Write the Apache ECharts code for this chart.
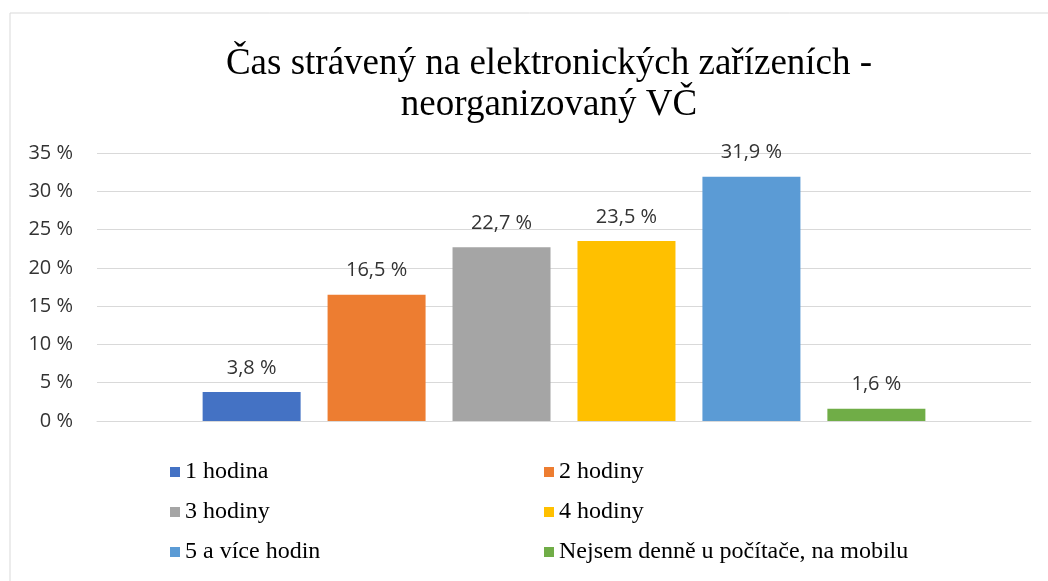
<!DOCTYPE html>
<html>
<head>
<meta charset="utf-8">
<script src="https://cdn.jsdelivr.net/npm/echarts@6/dist/echarts.min.js"></script>
<style>
  html, body { margin: 0; padding: 0; background: #fff; }
  #main { width: 1048px; height: 581px; }
</style>
</head>
<body>
<div id="main"></div>
<script>
var titleLines = ['Čas strávený na elektronických zařízeních -', 'neorganizovaný VČ'];
var seriesNames = ['1 hodina', '2 hodiny', '3 hodiny', '4 hodiny', '5 a více hodin', 'Nejsem denně u počítače, na mobilu'];
var seriesValues = [3.8, 16.5, 22.7, 23.5, 31.9, 1.6];
var seriesColors = ['#4472C4', '#ED7D31', '#A5A5A5', '#FFC000', '#5B9BD5', '#70AD47'];
var yTicks = [0, 5, 10, 15, 20, 25, 30, 35];

var chart = echarts.init(document.getElementById('main'));

function pct(v) {
    return String(v).replace('.', ',') + ' %';
}

var series = seriesNames.map(function(name, i) {
    return {
        name: name,
        type: 'bar',
        data: [seriesValues[i]],
        barWidth: 98,
        barGap: '27.5%',
        itemStyle: { color: seriesColors[i] },
        label: {
            show: true,
            position: 'top',
            distance: 14,
            fontFamily: 'Open Sans',
            fontSize: 20,
            color: '#333',
            formatter: function(p) { return pct(p.value); }
        }
    };
});

var legendStyle = {
    orient: 'vertical',
    icon: 'rect',
    padding: 0,
    itemWidth: 10,
    itemHeight: 10,
    itemGap: 16,
    textStyle: { fontFamily: 'Liberation Serif', fontSize: 24, color: '#000', lineHeight: 24 }
};

var option = {
    animation: false,
    backgroundColor: '#fff',
    title: {
        text: titleLines.join('\n'),
        left: 544,
        top: 39,
        textAlign: 'center',
        textStyle: { fontFamily: 'Liberation Serif', fontSize: 37, fontWeight: 'normal', color: '#000', lineHeight: 41 }
    },
    graphic: [{
        type: 'rect',
        shape: { x: 10, y: 13, width: 1100, height: 700 },
        style: { fill: 'none', stroke: '#D9D9D9', lineWidth: 1 },
        silent: true
    }],
    legend: [
        Object.assign({ left: 170, top: 460, data: [seriesNames[0], seriesNames[2], seriesNames[4]] }, legendStyle),
        Object.assign({ left: 544, top: 460, data: [seriesNames[1], seriesNames[3], seriesNames[5]] }, legendStyle)
    ],
    grid: { left: 97, right: 17, top: 153, bottom: 160, containLabel: false },
    xAxis: {
        type: 'category',
        data: [''],
        axisLine: { lineStyle: { color: '#D9D9D9' } },
        axisTick: { show: false },
        axisLabel: { show: false }
    },
    yAxis: {
        type: 'value',
        min: yTicks[0],
        max: yTicks[yTicks.length - 1],
        interval: 5,
        axisLine: { show: false },
        axisTick: { show: false },
        splitLine: { lineStyle: { color: '#D9D9D9' } },
        axisLabel: {
            margin: 24,
            fontFamily: 'Open Sans',
            fontSize: 20,
            color: '#333',
            formatter: function(v) { return pct(v); }
        }
    },
    series: series
};

chart.setOption(option);
</script>
</body>
</html>
